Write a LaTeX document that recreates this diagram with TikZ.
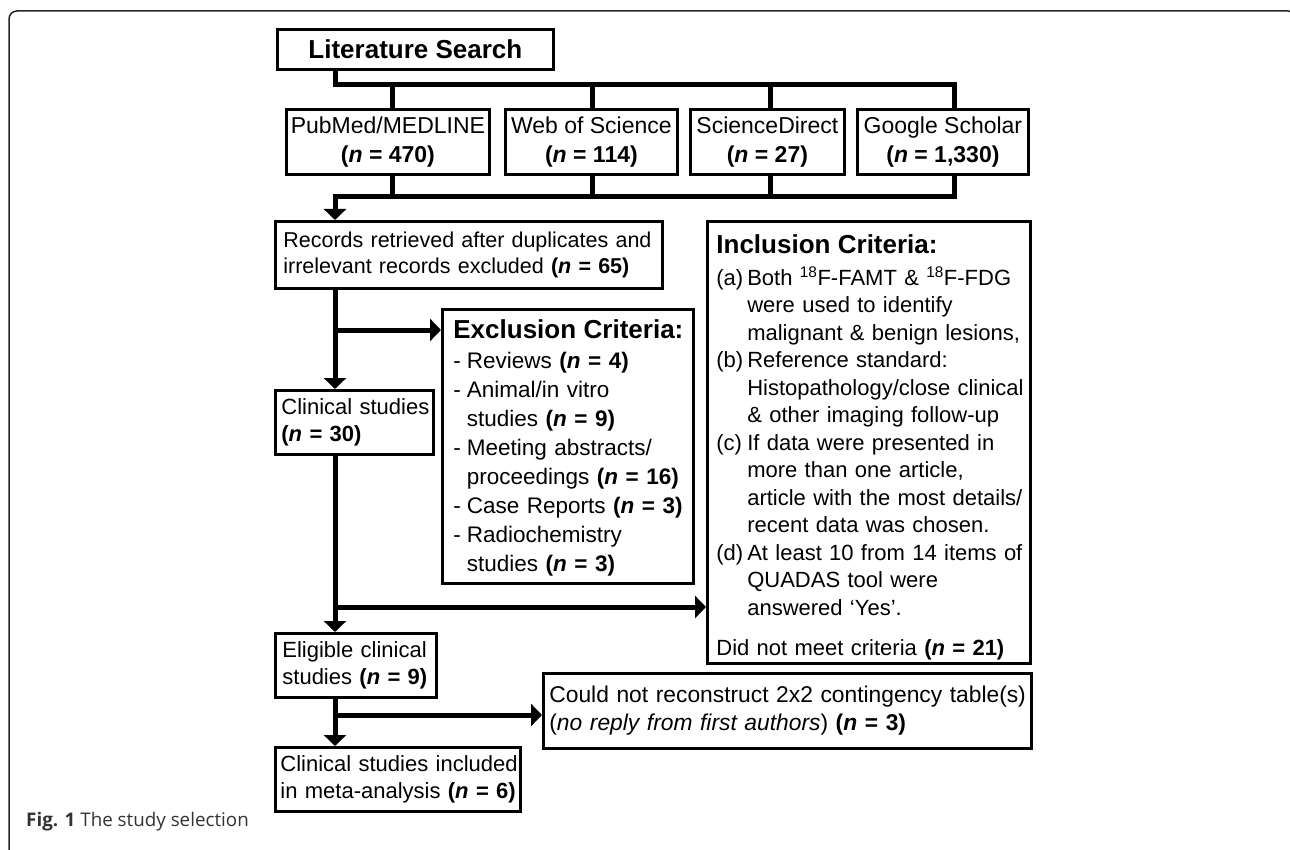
\documentclass[tikz,border=0pt]{standalone}
\usepackage{fontspec}
\setmainfont{Liberation Sans}
\newfontfamily\capfont{Open Sans}
\usetikzlibrary{arrows.meta,calc}
\tikzset{
  conn/.style={line width=5pt},
  arr/.style={line width=5pt,-{Triangle[width=22pt,length=11pt]}},
  box/.style={draw, line width=2.8pt, inner sep=0pt, anchor=north west,
    font=\fontsize{22}{27}\selectfont},
  dim/.style 2 args={minimum width=#1pt, minimum height=#2pt},
  lbox/.style 2 args={align=left, inner xsep=#1pt, text width=#2pt},
}
\newcommand{\nn}[1]{\textbf{(\textit{n} = #1)}}
\newcommand{\ttlfont}{\fontsize{26}{30}\selectfont\bfseries}
\begin{document}
\begin{tikzpicture}[x=1pt,y=-1pt]
\useasboundingbox (0,0) rectangle (1290,850);
% outer frame
\draw[line width=1.5pt, black!85, rounded corners=8pt] (9,880) -- (9,11) -- (1296,11) -- (1296,880);

% boxes
\node[box, dim={276}{40}, font=\ttlfont] (lit) at (276,28) {Literature Search};
\node[box, dim={203}{65}, align=center, font=\fontsize{23}{29}\selectfont] (pm) at (285,108) {PubMed/MEDLINE\\\nn{470}};
\node[box, dim={172}{65}, align=center, font=\fontsize{23}{29}\selectfont] (wos) at (504,108) {Web of Science\\\nn{114}};
\node[box, dim={154}{65}, align=center, font=\fontsize{23}{29}\selectfont] (sd) at (689,108) {ScienceDirect\\\nn{27}};
\node[box, dim={171}{65}, align=center, font=\fontsize{23}{29}\selectfont] (gs) at (856,108) {Google Scholar\\\nn{1,330}};

\node[box, dim={387}{67}, lbox={8}{371}, font=\fontsize{21.5}{26}\selectfont] (rec) at (274,220)
  {\begin{tabular}{@{}l@{}}Records retrieved after duplicates and\\irrelevant records excluded \nn{65}\end{tabular}};

\node[box, dim={251}{274}, lbox={11}{229}, font=\fontsize{22.5}{29}\selectfont] (exc) at (441,308)
  {\begin{tabular}{@{}l@{\hspace{6pt}}l@{}}
   \multicolumn{2}{@{}l@{}}{\rule{0pt}{25pt}\ttlfont Exclusion Criteria:}\\[1pt]
   - & Reviews \nn{4}\\
   - & Animal/in vitro\\
     & studies \nn{9}\\
   - & Meeting abstracts/\\
     & proceedings \nn{16}\\
   - & Case Reports \nn{3}\\
   - & Radiochemistry\\
     & studies \nn{3}
   \end{tabular}};

\node[box, dim={323}{436}, lbox={9}{305}, font=\fontsize{22}{27.5}\selectfont] (inc) at (706,220)
  {\begin{tabular}{@{}l@{\hspace{4pt}}l@{}}
   \multicolumn{2}{@{}l@{}}{\rule{0pt}{32pt}\ttlfont Inclusion Criteria:}\\[4.5pt]
   (a) & Both \textsuperscript{18}F-FAMT \& \textsuperscript{18}F-FDG\\
       & were used to identify\\
       & malignant \& benign lesions,\\
   (b) & Reference standard:\\
       & Histopathology/close clinical\\
       & \& other imaging follow-up\\
   (c) & If data were presented in\\
       & more than one article,\\
       & article with the most details/\\
       & recent data was chosen.\\
   (d) & At least 10 from 14 items of\\
       & QUADAS tool were\\
       & answered `Yes'.\\[12.5pt]
   \multicolumn{2}{@{}l@{}}{Did not meet criteria \nn{21}}
   \end{tabular}};

\node[box, dim={158}{64}, lbox={6}{146}] (cs) at (274,389)
  {\begin{tabular}{@{}l@{}}Clinical studies\\\nn{30}\end{tabular}};
\node[box, dim={161}{64}, lbox={7}{147}] (el) at (274,632)
  {\begin{tabular}{@{}l@{}}Eligible clinical\\studies \nn{9}\end{tabular}};
\node[box, dim={488}{75}, lbox={6}{476}, font=\fontsize{22.8}{28}\selectfont] (cn) at (542,672)
  {\begin{tabular}{@{}l@{}}Could not reconstruct 2x2 contingency table(s)\\(\textit{no reply from first authors}) \nn{3}\end{tabular}};
\node[box, dim={245}{64}, lbox={5}{235}] (inm) at (274,746)
  {\begin{tabular}{@{}l@{}}Clinical studies included\\in meta-analysis \nn{6}\end{tabular}};

% caption
\node[anchor=west, inner sep=0pt, text=black!80, font=\capfont\fontsize{18.8}{22}\selectfont] (cap) at (26,822)
  {\textbf{Fig. 1} The study selection};

% connector coordinates
\coordinate (b1) at (335,85);
\coordinate (b2) at (335,197);
\coordinate (x1) at (392,85);
\coordinate (x2) at (592,85);
\coordinate (x3) at (770,85);
\coordinate (x4) at (954,85);
\coordinate (e1) at (335,330);
\coordinate (e2) at (335,607);
\coordinate (e3) at (335,715);

% top tree
\draw[conn] (lit.south -| b1) -- (b1) -- (x4) -- (x4 |- gs.north);
\draw[conn] (x1) -- (x1 |- pm.north);
\draw[conn] (x2) -- (x2 |- wos.north);
\draw[conn] (x3) -- (x3 |- sd.north);
% collector
\draw[conn] (x1 |- pm.south) -- (x1 |- b2);
\draw[conn] (x2 |- wos.south) -- (x2 |- b2);
\draw[conn] (x3 |- sd.south) -- (x3 |- b2);
\draw[arr] (x4 |- gs.south) -- (x4 |- b2) -- (b2) -- (b2 |- rec.north);
% main line
\draw[arr] (b2 |- rec.south) -- (b2 |- cs.north);
\draw[arr] (e1) -- (e1 -| exc.west);
\draw[arr] (b2 |- cs.south) -- (b2 |- el.north);
\draw[arr] (e2) -- (e2 -| inc.west);
\draw[arr] (b2 |- el.south) -- (b2 |- inm.north);
\draw[arr] (e3) -- (e3 -| cn.west);
\end{tikzpicture}
\end{document}
